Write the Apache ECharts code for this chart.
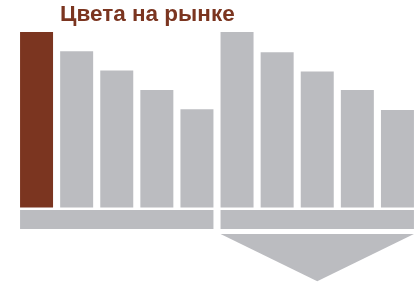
<!DOCTYPE html>
<html>
<head>
<meta charset="UTF-8">
<title>colors_market</title>
<script src="https://cdn.jsdelivr.net/npm/echarts@6/dist/echarts.min.js"></script>
<style>
  html, body { margin: 0; padding: 0; background: #fff; }
  #main { width: 418px; height: 284px; }
</style>
</head>
<body>
<div id="main"></div>
<script>
// два блока по пять столбцов, первый выделен
var categories = ['1', '2', '3', '4', '5', '6', '7', '8', '9', '10'];
var values = [100, 89, 78, 67, 56, 100, 88.5, 77.5, 67, 55.5];
var highlight = [true, false, false, false, false, false, false, false, false, false];
// полосы под столбцами: [от категории, до категории, верх, низ]
var strips = [[0, 4, -1.4, -12.3], [5, 9, -1.4, -12.3]];
// стрелка вниз под правым блоком
var arrow = [[5, 9, -15.1, -42]];

var brown = '#7b3520';
var gray = '#bbbcc0';
var barW = 33;

var myChart = echarts.init(document.getElementById('main'));

function rectItem(params, api) {
  var a = api.coord([api.value(0), api.value(2)]);
  var b = api.coord([api.value(1), api.value(3)]);
  return {
    type: 'rect',
    shape: { x: a[0] - barW / 2, y: a[1], width: b[0] - a[0] + barW, height: b[1] - a[1] },
    style: { fill: gray }
  };
}

function arrowItem(params, api) {
  var a = api.coord([api.value(0), api.value(2)]);
  var b = api.coord([api.value(1), api.value(3)]);
  var x1 = a[0] - barW / 2, x2 = b[0] + barW / 2;
  return {
    type: 'polygon',
    shape: { points: [[x1, a[1]], [x2, a[1]], [(x1 + x2) / 2, b[1]]] },
    style: { fill: gray }
  };
}

var option = {
  animation: false,
  title: {
    text: 'Цвета на рынке',
    left: 60,
    top: 3,
    padding: 0,
    textStyle: { color: brown, fontSize: 22.5, fontWeight: 'bold', fontFamily: 'Liberation Sans, Arial, sans-serif' }
  },
  grid: { left: 16.5, right: 0.5, top: 32, bottom: 2.8 },
  xAxis: {
    type: 'category',
    data: categories,
    show: false
  },
  yAxis: {
    type: 'value',
    min: -42,
    max: 100,
    show: false
  },
  series: [
    {
      type: 'bar',
      barWidth: barW,
      data: values.map(function (v, i) {
        return { value: v, itemStyle: { color: highlight[i] ? brown : gray } };
      })
    },
    {
      type: 'custom',
      renderItem: rectItem,
      data: strips
    },
    {
      type: 'custom',
      renderItem: arrowItem,
      data: arrow
    }
  ]
};
myChart.setOption(option);
</script>
</body>
</html>
